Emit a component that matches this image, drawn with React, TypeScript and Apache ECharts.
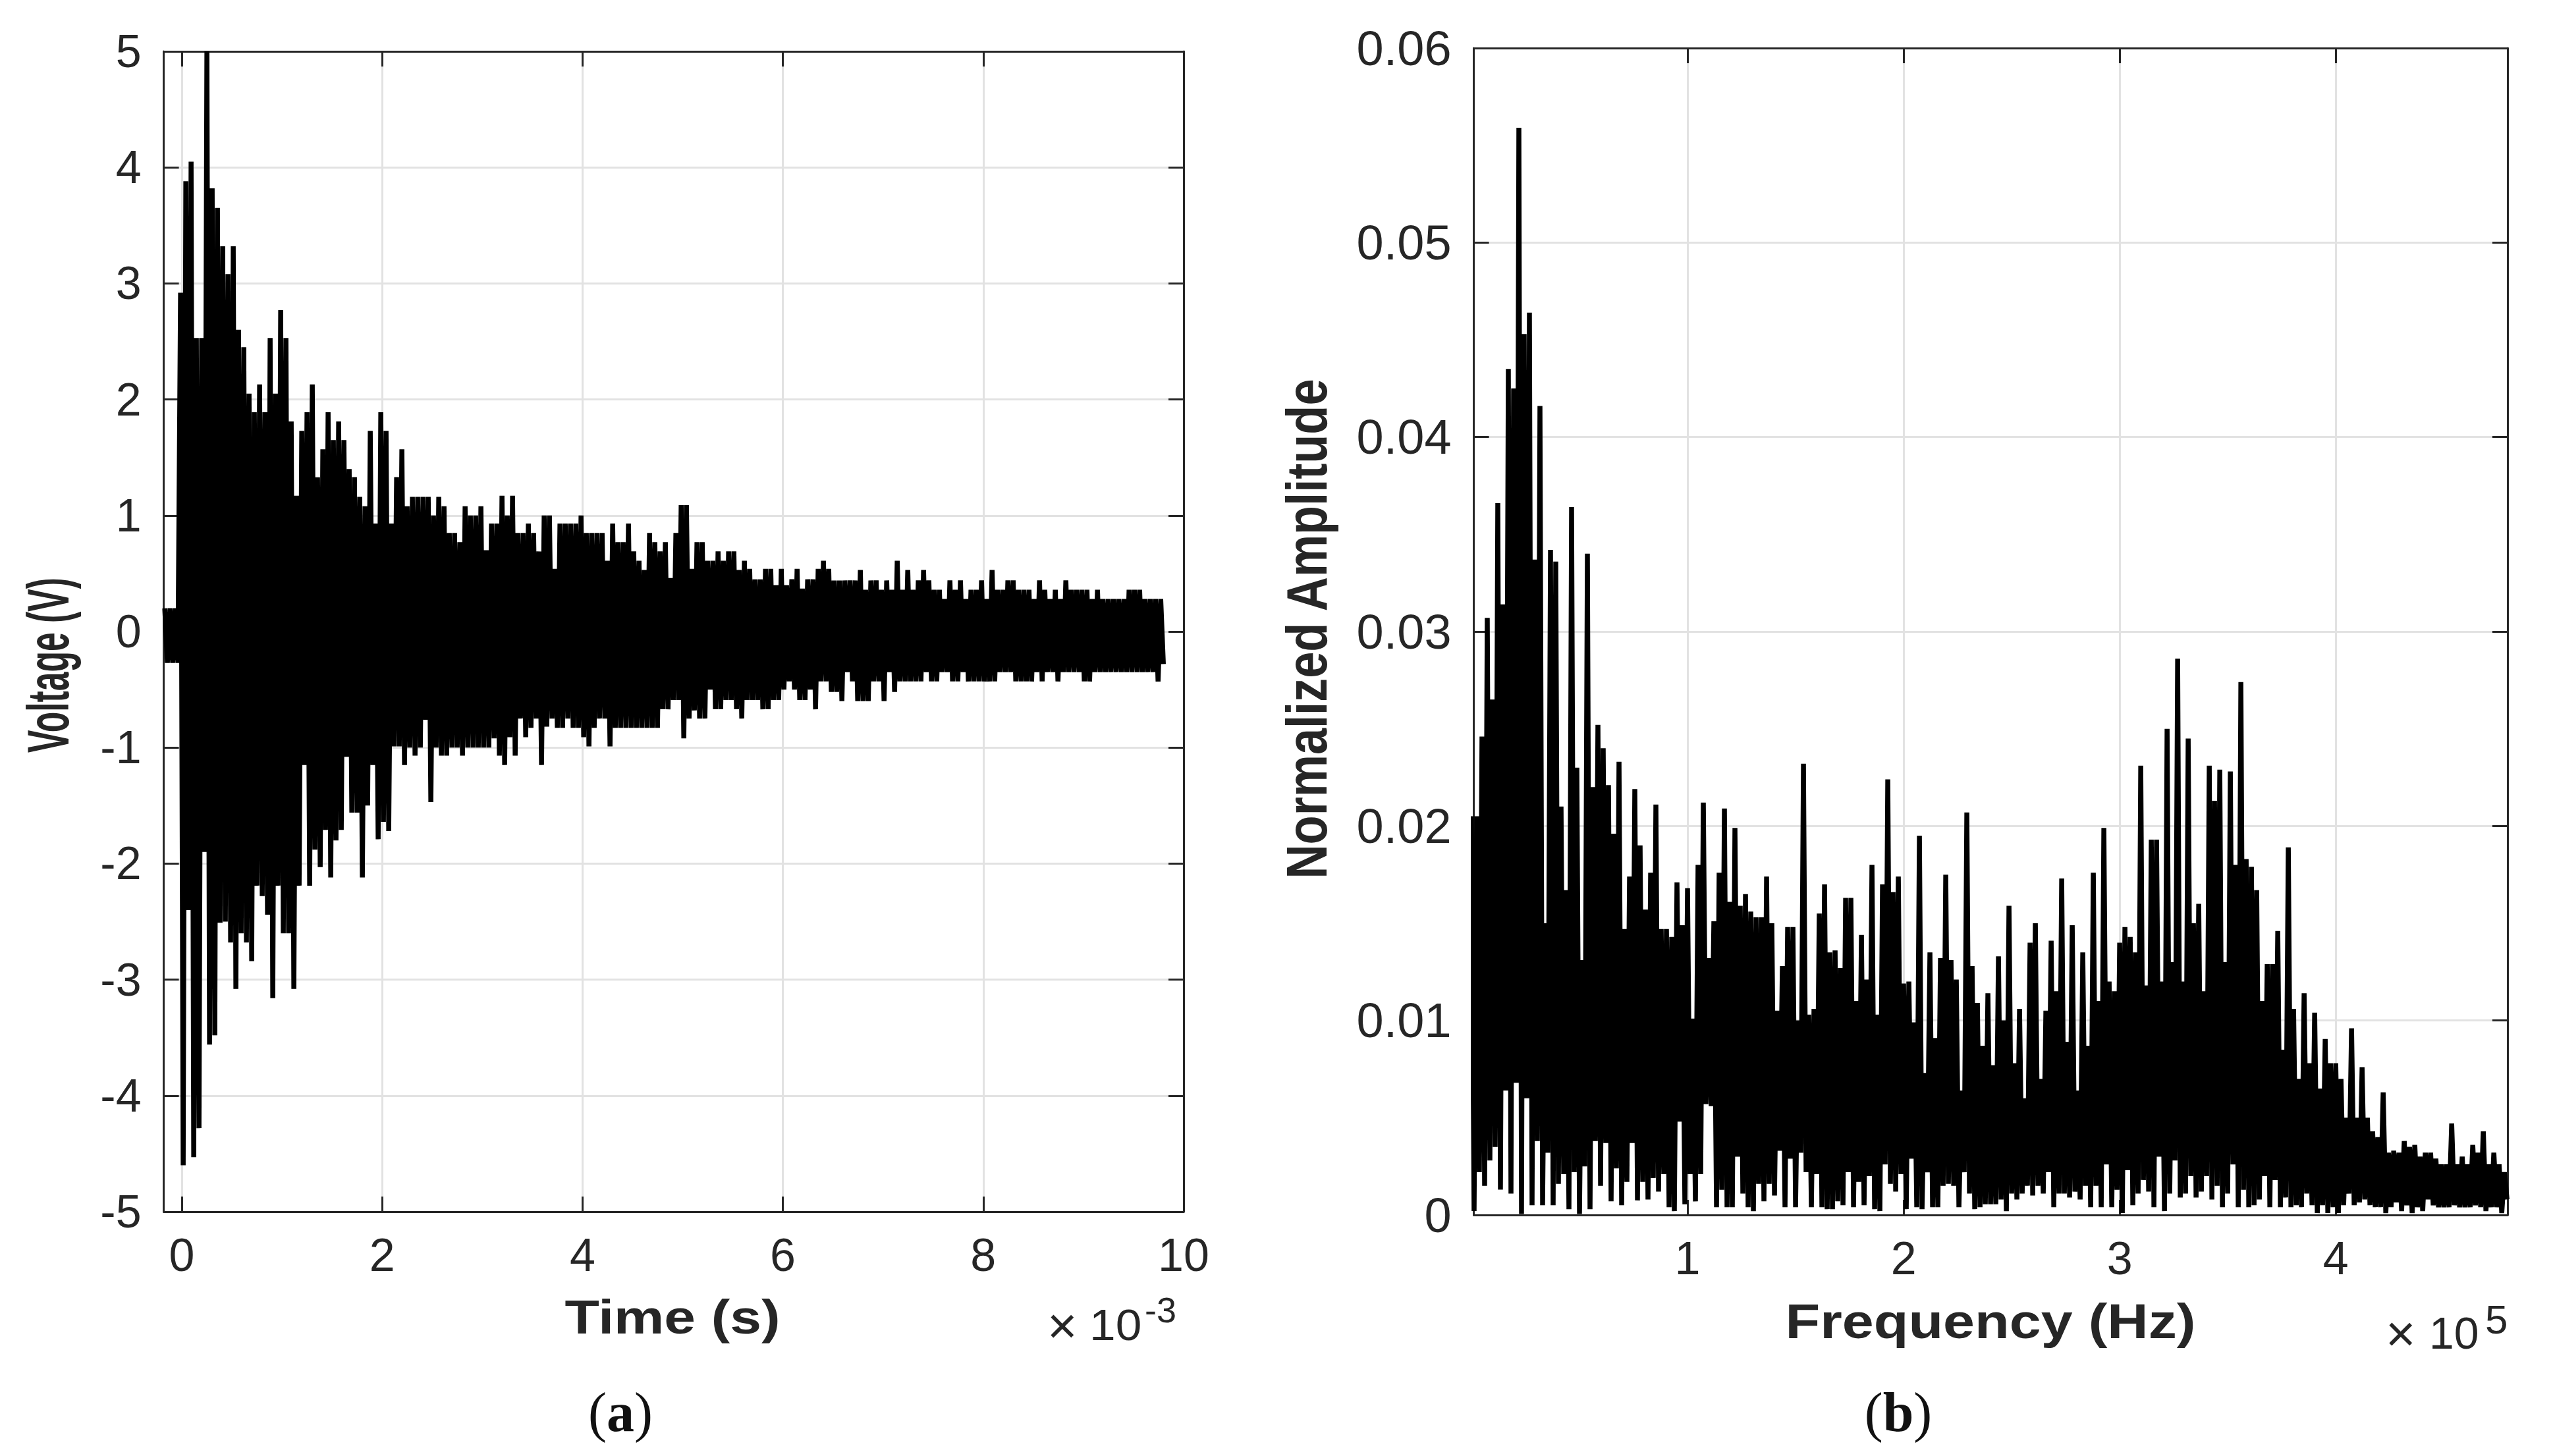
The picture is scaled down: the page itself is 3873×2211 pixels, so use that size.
import React, { useEffect, useRef } from "react";
import * as echarts from "echarts";

// Time trace: one upper and one lower reading per column of the dense black band (volts)
const timeStart = -0.17; // ×10^-3 s
const timeStep = 0.0526;
const voltageUpper = [
  0.2, 0.2, 0.2, 2.92, 3.88, 4.05, 2.53, 2.53, 5, 3.82,
  3.65, 3.32, 3.08, 3.32, 2.6, 2.45, 2.05, 1.89, 2.13, 1.89,
  2.53, 2.05, 2.77, 2.53, 1.81, 1.17, 1.73, 1.89, 2.13, 1.33,
  1.57, 1.89, 1.65, 1.81, 1.65, 1.4, 1.33, 1.16, 1.08, 1.73,
  0.93, 1.89, 1.73, 0.93, 1.33, 1.57, 1.08, 1.16, 1.16, 1.16,
  1.16, 1.0, 1.16, 1.08, 0.85, 0.85, 0.77, 1.08, 1.0, 1.0,
  1.08, 0.7, 0.93, 0.93, 1.17, 1.0, 1.17, 0.85, 0.85, 0.93,
  0.85, 0.69, 1.0, 1.0, 0.54, 0.93, 0.93, 0.93, 0.93, 1.0,
  0.85, 0.85, 0.85, 0.85, 0.61, 0.93, 0.77, 0.77, 0.93, 0.69,
  0.61, 0.53, 0.85, 0.77, 0.69, 0.77, 0.46, 0.85, 1.09, 1.09,
  0.54, 0.77, 0.77, 0.61, 0.61, 0.69, 0.61, 0.69, 0.69, 0.53,
  0.61, 0.54, 0.45, 0.45, 0.54, 0.54, 0.4, 0.54, 0.4, 0.45,
  0.54, 0.37, 0.45, 0.45, 0.54, 0.61, 0.54, 0.44, 0.44, 0.44,
  0.44, 0.44, 0.53, 0.36, 0.44, 0.44, 0.36, 0.44, 0.36, 0.61,
  0.36, 0.53, 0.36, 0.44, 0.53, 0.44, 0.36, 0.36, 0.28, 0.44,
  0.36, 0.44, 0.28, 0.36, 0.36, 0.44, 0.28, 0.53, 0.36, 0.36,
  0.44, 0.44, 0.36, 0.36, 0.36, 0.28, 0.44, 0.36, 0.28, 0.36,
  0.28, 0.44, 0.36, 0.36, 0.36, 0.36, 0.28, 0.36, 0.28, 0.28,
  0.28, 0.28, 0.28, 0.36, 0.36, 0.36, 0.28, 0.28, 0.28, 0.28,
];
const voltageLower = [
  -0.27, -0.27, -0.27, -4.6, -2.4, -4.53, -4.28, -1.9, -3.56, -3.48,
  -2.51, -2.5, -2.68, -3.08, -2.6, -2.68, -2.84, -2.19, -2.28, -2.44,
  -3.16, -2.19, -2.6, -2.6, -3.08, -2.19, -1.15, -2.19, -1.88, -2.03,
  -1.71, -2.12, -1.8, -1.71, -1.08, -1.56, -1.56, -2.12, -1.5, -1.15,
  -1.79, -1.64, -1.72, -0.99, -0.99, -1.15, -1, -1.07, -1, -0.76,
  -1.47, -1, -1.07, -1.07, -1, -1, -1.07, -1, -1, -1,
  -1, -1, -0.92, -1.07, -1.15, -0.91, -1.07, -0.75, -0.91, -0.83,
  -0.75, -1.15, -0.82, -0.75, -0.83, -0.83, -0.75, -0.83, -0.83, -0.91,
  -0.99, -0.83, -0.75, -0.75, -0.99, -0.83, -0.83, -0.83, -0.83, -0.83,
  -0.83, -0.83, -0.83, -0.83, -0.67, -0.67, -0.59, -0.59, -0.92, -0.75,
  -0.68, -0.75, -0.75, -0.5, -0.67, -0.67, -0.59, -0.59, -0.67, -0.75,
  -0.59, -0.59, -0.59, -0.67, -0.67, -0.59, -0.59, -0.5, -0.43, -0.5,
  -0.59, -0.59, -0.5, -0.67, -0.43, -0.43, -0.52, -0.52, -0.6, -0.35,
  -0.43, -0.6, -0.6, -0.6, -0.43, -0.43, -0.6, -0.35, -0.52, -0.43,
  -0.43, -0.43, -0.43, -0.43, -0.35, -0.43, -0.43, -0.35, -0.35, -0.43,
  -0.43, -0.35, -0.43, -0.43, -0.43, -0.43, -0.43, -0.43, -0.35, -0.35,
  -0.35, -0.43, -0.43, -0.43, -0.43, -0.35, -0.43, -0.35, -0.35, -0.43,
  -0.35, -0.35, -0.35, -0.35, -0.43, -0.43, -0.35, -0.35, -0.35, -0.35,
  -0.35, -0.35, -0.35, -0.35, -0.35, -0.35, -0.35, -0.35, -0.43, -0.28,
];

// Spectrum: one upper and one lower reading per column (amplitude × 1000)
const freqStart = 0; // ×10^5 Hz
const freqStep = 0.02439;
const amplitudeUpperMilli = [
  20.5, 20.5, 24.6, 30.7, 26.5, 36.6, 31.4, 43.5, 42.5, 55.9,
  45.3, 46.4, 33.7, 41.6, 15, 34.2, 33.6, 21, 16.7, 36.4,
  23, 13.1, 34, 22, 25.2, 24, 22.1, 19.6, 23.3, 14.7,
  17.4, 21.9, 19, 15.7, 17.6, 21.1, 14.7, 14.7, 14.3, 17.1,
  14.9, 16.8, 10.1, 18, 21.2, 13.2, 15.1, 17.6, 20.9, 16.1,
  19.9, 15.9, 16.5, 15.6, 15.3, 15.3, 17.4, 15, 10.5, 12.8,
  14.8, 14.8, 10, 23.2, 10.3, 10.6, 15.5, 17, 13.5, 13.6,
  12.7, 16.3, 16.3, 11, 14.4, 12.1, 18, 10.3, 17, 22.4,
  16.6, 17.4, 11.9, 12, 9.9, 19.5, 7.3, 13.5, 9.1, 13.2,
  17.5, 13.1, 12.1, 6.4, 20.7, 12.8, 10.9, 8.7, 11.4, 7.7,
  13.3, 10, 15.9, 7.8, 10.6, 6, 14, 15, 7, 10.5,
  14.1, 11.5, 17.3, 8.9, 14.9, 6.4, 13.5, 8.7, 17.6, 11,
  19.9, 12, 11.5, 14, 14.8, 14.3, 13.5, 23.1, 11.8, 19.3,
  19.3, 12, 25, 13, 28.6, 12, 24.5, 15, 16, 11.5,
  23.1, 21.3, 22.9, 13, 22.8, 18, 27.4, 18.3, 17.9, 16.7,
  11, 12.9, 12.9, 14.6, 8.5, 18.9, 10.6, 7, 11.4, 7.8,
  10.4, 6.5, 9.05, 7.8, 7.8, 7, 5, 9.6, 5, 7.6,
  5, 4.3, 4, 6.3, 3.2, 3.3, 3.2, 3.8, 3.5, 3.6,
  3, 3.2, 3.2, 2.9, 2.6, 2.6, 4.7, 2.6, 3, 2.6,
  3.6, 3.2, 4.3, 2.6, 3.2, 2.6, 2.2,
];
const amplitudeLowerMilli = [
  0.2, 2.2, 1.5, 2.8, 3.5, 1.3, 6.4, 1.1, 6.8, 0.05,
  6, 0.5, 3.8, 0.5, 3.2, 0.5, 1.6, 2.1, 0.3, 2.2,
  0.05, 2.5, 0.3, 3.8, 1.5, 3.7, 0.7, 2.4, 0.5, 1.7,
  3.7, 0.75, 1.7, 0.8, 1.9, 1.2, 2.1, 0.4, 0.2, 4.8,
  0.55, 2.1, 0.7, 2.1, 5.7, 5.6, 0.4, 1.3, 0.4, 0.4,
  3, 1.1, 0.4, 0.2, 1.6, 0.7, 1.6, 1, 3.3, 0.4,
  2.9, 0.4, 3.2, 2.2, 0.4, 2.1, 0.4, 0.3, 0.3, 0.7,
  0.5, 2.2, 0.4, 1.7, 0.5, 2, 0.3, 0.2, 2.6, 1.6,
  1.2, 2.1, 0.3, 2.9, 0.4, 0.3, 2.2, 0.4, 0.4, 1.5,
  1.6, 1.5, 0.4, 2.2, 1.1, 0.3, 0.4, 0.55, 0.55, 0.55,
  0.8, 0.2, 1.1, 0.8, 1.1, 1.5, 1, 1.5, 1.1, 2.2,
  0.4, 1.1, 1.1, 0.9, 1.2, 0.8, 1.5, 0.4, 1.5, 0.4,
  2.6, 0.4, 1.3, 0.1, 2.3, 0.5, 1.1, 1.8, 1.2, 0.4,
  3, 0.2, 1.1, 2.8, 0.9, 1.1, 2, 0.9, 1.2, 2,
  0.8, 1.5, 0.4, 1.1, 2.6, 0.4, 1.3, 0.4, 0.5, 0.8,
  2, 0.4, 1.8, 0.4, 0.9, 0.4, 0.5, 0.4, 1.1, 0.5,
  0.1, 0.5, 0.1, 0.4, 0.1, 0.5, 1.1, 0.5, 0.65, 0.8,
  0.5, 0.4, 0.4, 0.1, 0.4, 0.65, 0.2, 0.5, 0.1, 0.4,
  0.2, 0.8, 0.5, 0.4, 0.4, 0.4, 0.5, 0.4, 0.4, 0.4,
  0.5, 0.4, 0.2, 0.4, 0.4, 0.1, 0.8,
];

const timeTicks = [0, 2, 4, 6, 8, 10];
const freqTicks = [1, 2, 3, 4];

const INK = "#262626";
const GRID = "#e2e2e2";
const SANS = "Liberation Sans";
const SERIF = "Liberation Serif";

function zigzag(upper: number[], lower: number[], start: number, step: number, unit: number) {
  const pts: number[][] = [];
  upper.forEach((u, i) => {
    const x = start + i * step;
    pts.push([x, u * unit]);
    pts.push([x + step / 2, lower[i] * unit]);
  });
  return pts;
}

function boxAxes(gridIndex: number, xMin: number, xMax: number, xTicks: number[], yMin: number, yMax: number, yInterval: number, xFont: number, yFont: number, xMargin: number, yMargin: number, yFmt: (v: number) => string) {
  const line = { show: true, onZero: false, lineStyle: { color: INK, width: 3 } };
  const tick = { show: true, inside: true, length: 23, lineStyle: { color: INK, width: 3 } };
  const split = { show: true, lineStyle: { color: GRID, width: 3 } };
  const xBase = { type: "value", gridIndex, min: xMin, max: xMax, axisLine: line };
  const yBase = { type: "value", gridIndex, min: yMin, max: yMax, interval: yInterval, axisLine: line };
  return {
    x: [
      {
        ...xBase,
        position: "bottom",
        axisTick: { ...tick, customValues: xTicks },
        splitLine: split,
        axisLabel: { show: true, customValues: xTicks, color: INK, fontFamily: SANS, fontSize: xFont, margin: xMargin, formatter: (v: number) => String(v) },
      },
      {
        ...xBase,
        position: "top",
        axisTick: { ...tick, customValues: xTicks },
        splitLine: { show: false },
        axisLabel: { show: false },
      },
    ],
    y: [
      {
        ...yBase,
        position: "left",
        axisTick: tick,
        splitLine: split,
        axisLabel: { show: true, color: INK, fontFamily: SANS, fontSize: yFont, margin: yMargin, formatter: yFmt },
      },
      {
        ...yBase,
        position: "right",
        axisTick: tick,
        splitLine: { show: false },
        axisLabel: { show: false },
      },
    ],
  };
}

function label(text: string, x: number, y: number, font: string, opts: any = {}) {
  const { rotation, scaleX, scaleY, fill, align, rich } = opts;
  return {
    type: "text",
    x,
    y,
    rotation: rotation || 0,
    scaleX: scaleX || 1,
    scaleY: scaleY || 1,
    silent: true,
    style: { text, font, fill: fill || INK, textAlign: align || "center", textVerticalAlign: "middle", rich },
  };
}

export default function App() {
  const ref = useRef<HTMLDivElement>(null);
  useEffect(() => {
    document.body.style.margin = "0";
    const chart = echarts.init(ref.current!, undefined, { renderer: "svg" });
    const a = boxAxes(0, -0.18, 10, timeTicks, -5, 5, 1, 70, 70, 31, 34, (v) => String(v));
    const b = boxAxes(1, 0.011, 4.795, freqTicks, 0, 0.06, 0.01, 70, 74, 31, 34, (v) => (v === 0 ? "0" : v.toFixed(2)));
    const serif = (w: string) => `${w} 84px "${SERIF}"`;
    const rich = { n: { font: serif("normal"), fill: "#111111" }, b: { font: serif("bold"), fill: "#111111" } };
    chart.setOption({
      animation: false,
      backgroundColor: "#ffffff",
      grid: [
        { left: 248.6, top: 78, width: 1548.4, height: 1762 },
        { left: 2237.6, top: 73, width: 1569.4, height: 1772 },
      ],
      xAxis: [...a.x, ...b.x],
      yAxis: [...a.y, ...b.y],
      series: [
        {
          name: "Voltage",
          type: "line",
          xAxisIndex: 0,
          yAxisIndex: 0,
          showSymbol: false,
          clip: false,
          silent: true,
          lineStyle: { color: "#000000", width: 7.5, cap: "butt", join: "bevel" },
          data: zigzag(voltageUpper, voltageLower, timeStart, timeStep, 1),
        },
        {
          name: "Normalized Amplitude",
          type: "line",
          xAxisIndex: 2,
          yAxisIndex: 2,
          showSymbol: false,
          clip: false,
          silent: true,
          lineStyle: { color: "#000000", width: 7.5, cap: "butt", join: "bevel" },
          data: zigzag(amplitudeUpperMilli, amplitudeLowerMilli, freqStart, freqStep, 0.001),
        },
      ],
      graphic: [
        label("Time (s)", 1021, 2000, `bold 73px "${SANS}"`, { scaleX: 1.175 }),
        label("Voltage (V)", 73, 1010, `bold 89px "${SANS}"`, { rotation: Math.PI / 2, scaleX: 0.58 }),
        label("×", 1590, 2013, `78px "${SANS}"`, { align: "left" }),
        label("10", 1654, 2012, `66px "${SANS}"`, { align: "left", scaleX: 1.08 }),
        label("-3", 1738, 1989, `54px "${SANS}"`, { align: "left" }),
        label("{n|(}{b|a}{n|)}", 942, 2144, serif("normal"), { rich }),
        label("Frequency (Hz)", 3022, 2006, `bold 75px "${SANS}"`, { scaleX: 1.15 }),
        label("Normalized Amplitude", 1983, 955, `bold 88px "${SANS}"`, { rotation: Math.PI / 2, scaleX: 0.82 }),
        label("×", 3622, 2025, `78px "${SANS}"`, { align: "left" }),
        label("10", 3688, 2024, `68px "${SANS}"`, { align: "left" }),
        label("5", 3773, 2003, `62px "${SANS}"`, { align: "left" }),
        label("{n|(}{b|b}{n|)}", 2882, 2144, serif("normal"), { rich }),
      ],
    });
    return () => chart.dispose();
  }, []);
  return <div ref={ref} style={{ position: "fixed", left: 0, top: 0, width: 3873, height: 2211 }} />;
}
